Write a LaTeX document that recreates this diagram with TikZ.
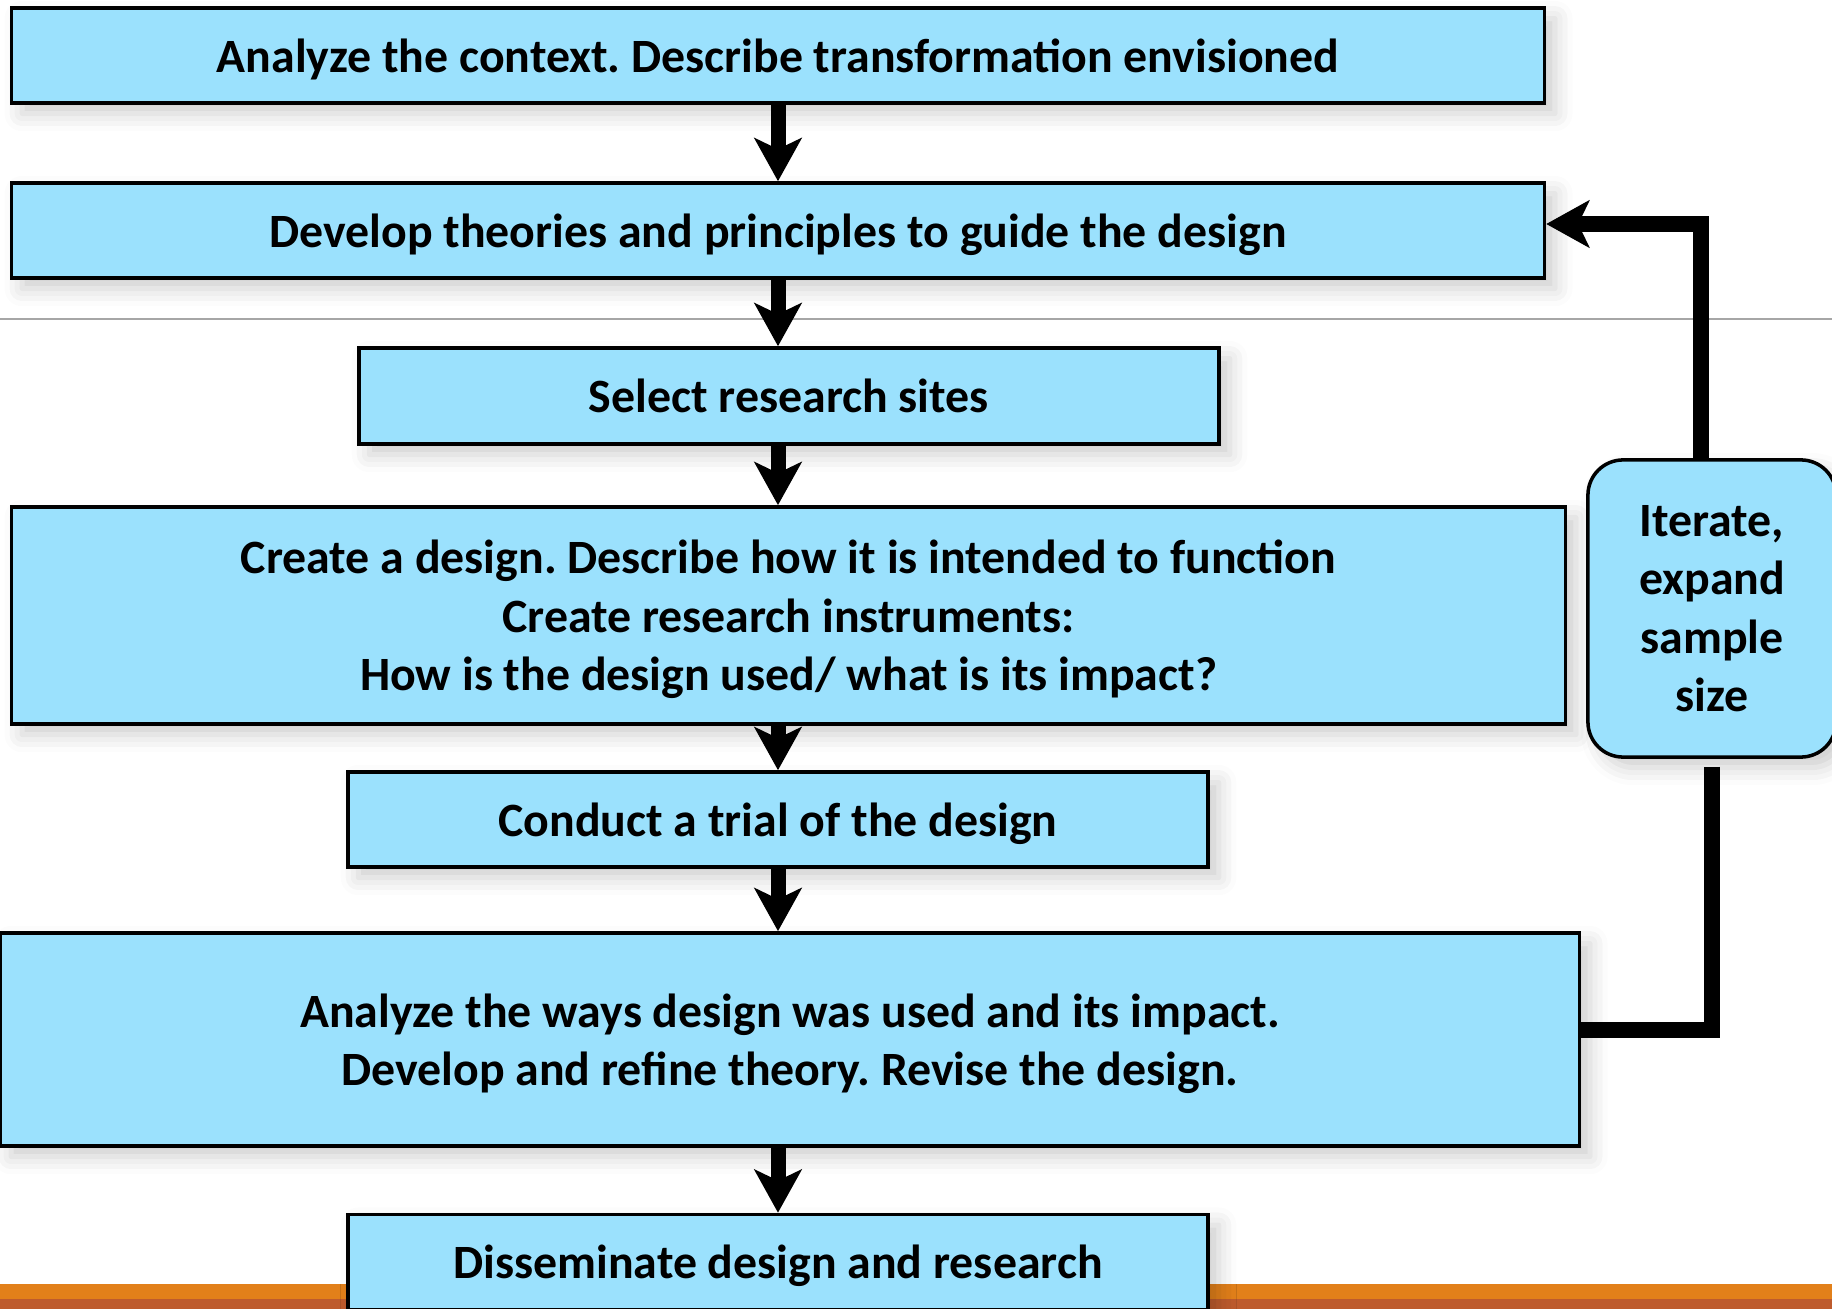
\documentclass[tikz,border=0pt]{standalone}
\usepackage{fontspec}
\setmainfont{Carlito}
\usetikzlibrary{arrows.meta,shadows.blur}

\definecolor{boxblue}{RGB}{155,225,253}
\definecolor{barorange}{RGB}{226,128,26}
\definecolor{barrust}{RGB}{190,91,45}
\frenchspacing

\begin{document}
\begin{tikzpicture}[
    x=0.01cm, y=-0.01cm,
    stage/.style={rectangle, draw, line width=1pt, fill=boxblue, align=center, inner sep=0pt, text depth=0pt,
        font=\fontsize{13.6}{16.6}\selectfont\bfseries,
        blur shadow={shadow xshift=3pt, shadow yshift=-3pt, shadow blur radius=5pt, shadow opacity=20}},
    iterbox/.style={stage, rounded corners=10pt},
    arrow/.style={-{Stealth[length=0.43cm, width=0.47cm, inset=0.11cm]}, line width=0.15cm},
    loopline/.style={line width=0.16cm}
]
\useasboundingbox (0,0) rectangle (1832,1309);

% background rule and footer bars
\draw[gray!70, line width=0.6pt] (0,319) -- (1832,319);
\fill[barorange] (0,1284) rectangle (1832,1299);
\fill[barrust] (0,1299) rectangle (1832,1309);

\node[stage, minimum width=15.32cm, minimum height=0.95cm] (context) at (778,55.5) {Analyze the context. Describe transformation envisioned};
\node[stage, minimum width=15.32cm, minimum height=0.95cm] (theory) at (778,230.5) {Develop theories and principles to guide the design};
\node[stage, minimum width=8.60cm, minimum height=0.96cm] (sites) at (789,396) {Select research sites};
\node[stage, minimum width=15.53cm, minimum height=2.17cm] (design) at (788.5,615.5) {Create a design. Describe how it is intended to function\\Create research instruments:\\How is the design used/ what is its impact?};
\node[stage, minimum width=8.60cm, minimum height=0.95cm] (trial) at (778,819.5) {Conduct a trial of the design};
\node[stage, minimum width=15.78cm, minimum height=2.13cm] (analyze) at (790,1039.5) {Analyze the ways design was used and its impact.\\Develop and refine theory. Revise the design.};
\node[stage, minimum width=8.60cm, minimum height=0.95cm] (disseminate) at (778,1262) {Disseminate design and research};
\node[iterbox, minimum width=2.48cm, minimum height=2.97cm] (iterate) at (1712,608.5) {Iterate,\\expand\\sample\\size};

\draw[arrow] (context.south) -- (context.south |- theory.north);
\draw[arrow] (context.south |- theory.south) -- (context.south |- sites.north);
\draw[arrow] (context.south |- sites.south) -- (context.south |- design.north);
\draw[arrow] (context.south |- design.south) -- (context.south |- trial.north);
\draw[arrow] (context.south |- trial.south) -- (context.south |- analyze.north);
\draw[arrow] (context.south |- analyze.south) -- (context.south |- disseminate.north);

% feedback loop
\draw[loopline] ([yshift=-0.08cm]iterate.south) |- ([yshift=0.095cm]analyze.east);
\draw[arrow, line width=0.16cm] ([xshift=-0.11cm]iterate.north) |- ([yshift=0.065cm]theory.east);

\end{tikzpicture}
\end{document}
